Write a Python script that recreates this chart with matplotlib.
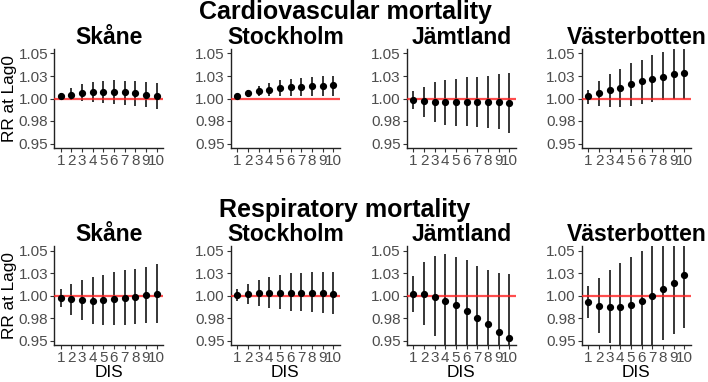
import matplotlib
matplotlib.use("Agg")
import matplotlib.pyplot as plt
import numpy as np

plt.rcParams['font.family'] = ['Liberation Sans', 'DejaVu Sans']

dis = [1, 2, 3, 4, 5, 6, 7, 8, 9, 10]
regions = ["Skåne", "Stockholm", "Jämtland", "Västerbotten"]
yticks = [0.95, 0.975, 1.00, 1.025, 1.05]
ytick_labels = ["0.95", "0.98", "1.00", "1.03", "1.05"]
row_titles = ["Cardiovascular mortality", "Respiratory mortality"]

# Cardiovascular mortality
cv_skane_rr = [1.0026, 1.0044, 1.0060, 1.0070, 1.0074, 1.0070, 1.0067, 1.0056, 1.0044, 1.0030]
cv_skane_lo = [0.9993, 0.9978, 0.9970, 0.9956, 0.9950, 0.9940, 0.9933, 0.9922, 0.9907, 0.9885]
cv_skane_hi = [1.0063, 1.0122, 1.0160, 1.0185, 1.0200, 1.0204, 1.0200, 1.0193, 1.0185, 1.0174]

cv_sthlm_rr = [1.0030, 1.0056, 1.0080, 1.0100, 1.0115, 1.0126, 1.0133, 1.0140, 1.0144, 1.0148]
cv_sthlm_lo = [1.0010, 1.0019, 1.0026, 1.0026, 1.0026, 1.0030, 1.0026, 1.0026, 1.0026, 1.0026]
cv_sthlm_hi = [1.0048, 1.0093, 1.0137, 1.0174, 1.0204, 1.0219, 1.0233, 1.0240, 1.0248, 1.0252]

cv_jamt_rr = [0.9981, 0.9967, 0.9959, 0.9959, 0.9959, 0.9963, 0.9963, 0.9959, 0.9959, 0.9948]
cv_jamt_lo = [0.9878, 0.9796, 0.9740, 0.9711, 0.9696, 0.9689, 0.9685, 0.9674, 0.9656, 0.9622]
cv_jamt_hi = [1.0078, 1.0133, 1.0178, 1.0204, 1.0222, 1.0237, 1.0244, 1.0252, 1.0267, 1.0285]

cv_vbott_rr = [1.0026, 1.0056, 1.0089, 1.0122, 1.0156, 1.0189, 1.0219, 1.0244, 1.0267, 1.0285]
cv_vbott_lo = [0.9944, 0.9915, 0.9907, 0.9907, 0.9915, 0.9941, 0.9963, 0.9981, 0.9993, 1.0000]
cv_vbott_hi = [1.0100, 1.0196, 1.0270, 1.0333, 1.0396, 1.0433, 1.0478, 1.0515, 1.0570, 1.0620]

# Respiratory mortality
rs_skane_rr = [0.9970, 0.9956, 0.9948, 0.9944, 0.9948, 0.9956, 0.9967, 0.9985, 1.0004, 1.0019]
rs_skane_lo = [0.9870, 0.9785, 0.9726, 0.9685, 0.9670, 0.9667, 0.9674, 0.9685, 0.9689, 0.9696]
rs_skane_hi = [1.0067, 1.0130, 1.0174, 1.0204, 1.0233, 1.0256, 1.0278, 1.0296, 1.0322, 1.0352]

rs_sthlm_rr = [1.0011, 1.0019, 1.0026, 1.0030, 1.0033, 1.0033, 1.0033, 1.0033, 1.0030, 1.0022]
rs_sthlm_lo = [0.9944, 0.9907, 0.9878, 0.9863, 0.9848, 0.9833, 0.9826, 0.9815, 0.9804, 0.9789]
rs_sthlm_hi = [1.0074, 1.0130, 1.0174, 1.0211, 1.0233, 1.0248, 1.0252, 1.0259, 1.0259, 1.0259]

rs_jamt_rr = [1.0019, 1.0015, 0.9985, 0.9941, 0.9889, 0.9826, 0.9752, 0.9678, 0.9600, 0.9533]
rs_jamt_lo = [0.9815, 0.9667, 0.9552, 0.9400, 0.9350, 0.9300, 0.9200, 0.9100, 0.9000, 0.8900]
rs_jamt_hi = [1.0222, 1.0370, 1.0441, 1.0460, 1.0433, 1.0389, 1.0326, 1.0278, 1.0248, 1.0241]

rs_vbott_rr = [0.9930, 0.9885, 0.9870, 0.9874, 0.9900, 0.9944, 1.0000, 1.0067, 1.0144, 1.0230]
rs_vbott_lo = [0.9752, 0.9581, 0.9470, 0.9400, 0.9380, 0.9390, 0.9410, 0.9511, 0.9574, 0.9644]
rs_vbott_hi = [1.0104, 1.0196, 1.0285, 1.0359, 1.0426, 1.0500, 1.0600, 1.0680, 1.0750, 1.0820]

data = [
    [(cv_skane_rr, cv_skane_lo, cv_skane_hi), (cv_sthlm_rr, cv_sthlm_lo, cv_sthlm_hi),
     (cv_jamt_rr, cv_jamt_lo, cv_jamt_hi), (cv_vbott_rr, cv_vbott_lo, cv_vbott_hi)],
    [(rs_skane_rr, rs_skane_lo, rs_skane_hi), (rs_sthlm_rr, rs_sthlm_lo, rs_sthlm_hi),
     (rs_jamt_rr, rs_jamt_lo, rs_jamt_hi), (rs_vbott_rr, rs_vbott_lo, rs_vbott_hi)],
]

W, H = 708, 382
fig = plt.figure(figsize=(W / 100, H / 100), dpi=100)

col_left = [54.3, 231.0, 407.0, 582.0]
ax_w = 108.7
row_top = [49.0, 246.0]
ax_h = 99.0
title_y = [12.0, 210.0]

for r in range(2):
    fig.text(345 / W, 1 - title_y[r] / H, row_titles[r], ha='center', va='center',
             fontsize=18, fontweight='bold')
    for c in range(4):
        rect = [col_left[c] / W, 1 - (row_top[r] + ax_h) / H, ax_w / W, ax_h / H]
        ax = fig.add_axes(rect)
        rr, lo, hi = data[r][c]
        ax.vlines(dis, lo, hi, color='black', lw=1.1, zorder=2)
        ax.axhline(1.0, color='#FF2020', lw=1.6, alpha=0.8, zorder=3)
        ax.plot(dis, rr, 'o', color='black', ms=4.2, zorder=4)
        ax.set_xlim(0.4, 10.6)
        ax.set_ylim(0.945, 1.055)
        ax.set_yticks(yticks)
        ax.set_yticklabels(ytick_labels)
        ax.set_xticks(dis)
        ax.set_xticklabels([str(d) for d in dis])
        ax.tick_params(axis='both', labelsize=11, labelcolor='#4D4D4D', color='#333333',
                       length=3, width=0.8, pad=1.5)
        for s in ['top', 'right']:
            ax.spines[s].set_visible(False)
        for s in ['left', 'bottom']:
            ax.spines[s].set_color('#222222')
            ax.spines[s].set_linewidth(1.0)
        ax.set_title(regions[c], fontsize=16.5, fontweight='bold', pad=1)
        if c == 0:
            fig.text(9.5 / W, 1 - (row_top[r] + ax_h / 2) / H, "RR at Lag0",
                     rotation=90, ha='center', va='center', fontsize=12.4)
        if r == 1:
            ax.set_xlabel("DIS", fontsize=12.4, labelpad=0)

fig.savefig("out.png", dpi=100)
